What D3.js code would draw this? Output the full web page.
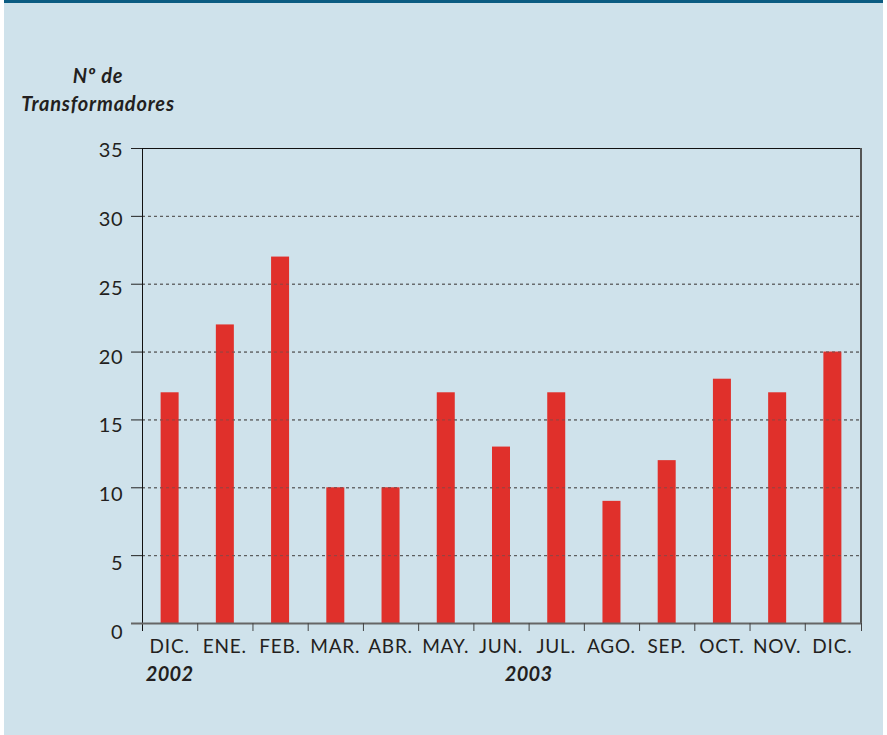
<!DOCTYPE html>
<html><head><meta charset="utf-8">
<script src="https://cdn.jsdelivr.net/npm/d3@7"></script>
<style>body{margin:0;background:#fff;}svg{display:block;}</style>
</head><body>
<script>
const categories = ["DIC.","ENE.","FEB.","MAR.","ABR.","MAY.","JUN.","JUL.","AGO.","SEP.","OCT.","NOV.","DIC."];
const values = [17,22,27,10,10,17,13,17,9,12,18,17,20];
const yTicks = [0,5,10,15,20,25,30,35];
const yearLabels = [{label:"2002", at:0, mode:"center"},{label:"2003", at:7, mode:"edge"}];

const W=887,H=735;
const svg=d3.select("body").append("svg").attr("width",W).attr("height",H);
const font="'Lato','Open Sans',sans-serif";
svg.append("rect").attr("x",4).attr("y",0).attr("width",879).attr("height",H).attr("fill","#cfe2eb");
svg.append("rect").attr("x",4).attr("y",0).attr("width",879).attr("height",3).attr("fill","#0b5c82");

const L=142,R=860,T=148,B=623;
const x=d3.scaleBand().domain(d3.range(categories.length)).range([L,R]).paddingInner(0).paddingOuter(0);
const y=d3.scaleLinear().domain([0,35]).range([B,T]);
const yLab=d3.scaleLinear().domain([0,35]).range([632,150]);

const grid=yTicks.filter(d=>d>0&&d<35);
svg.append("g").selectAll("line").data(grid).join("line")
  .attr("x1",L).attr("x2",R).attr("y1",d=>y(d)+0.5).attr("y2",d=>y(d)+0.5)
  .attr("stroke","#555").attr("stroke-width",1).attr("stroke-dasharray","3,3");

const bw=18;
svg.append("g").selectAll("rect").data(values).join("rect")
  .attr("x",(d,i)=>x(i)+x.bandwidth()/2-bw/2).attr("width",bw)
  .attr("y",d=>y(d)).attr("height",d=>B-y(d)).attr("fill","#e0302b");

svg.append("g").selectAll("line").data(grid).join("line")
  .attr("x1",L).attr("x2",R).attr("y1",d=>y(d)+0.5).attr("y2",d=>y(d)+0.5)
  .attr("stroke","#555").attr("stroke-width",1).attr("stroke-dasharray","3,3").attr("opacity",0.6);

svg.append("line").attr("x1",L).attr("x2",R).attr("y1",T+0.5).attr("y2",T+0.5).attr("stroke","#111");
svg.append("line").attr("x1",R+1).attr("x2",R+1).attr("y1",T).attr("y2",B).attr("stroke","#555").attr("stroke-width",2);
svg.append("line").attr("x1",L+0.5).attr("x2",L+0.5).attr("y1",T).attr("y2",B+8).attr("stroke","#111");
svg.append("g").selectAll("line").data(yTicks).join("line")
  .attr("x1",131).attr("x2",L).attr("y1",d=>y(d)+0.5).attr("y2",d=>y(d)+0.5).attr("stroke","#222");
svg.append("line").attr("x1",131).attr("x2",R+2).attr("y1",B+0.5).attr("y2",B+0.5).attr("stroke","#666").attr("stroke-width",2);
svg.append("g").selectAll("line").data(d3.range(1,categories.length+1)).join("line")
  .attr("x1",i=>(i<categories.length?x(i):R+1)+0.5).attr("x2",i=>(i<categories.length?x(i):R+1)+0.5)
  .attr("y1",B).attr("y2",B+8).attr("stroke","#444").attr("stroke-width",1);

svg.append("g").selectAll("text").data(yTicks).join("text")
  .attr("x",123).attr("y",d=>yLab(d)).attr("dy","0.35em").attr("text-anchor","end")
  .attr("font-family",font).attr("font-size",20).attr("letter-spacing",0.5).attr("fill","#231f20").text(d=>d);

svg.append("g").selectAll("text").data(categories).join("text")
  .attr("x",(d,i)=>x(i)+x.bandwidth()/2).attr("y",653).attr("text-anchor","middle")
  .attr("font-family",font).attr("font-size",19).attr("letter-spacing",0.8).attr("fill","#231f20").text(d=>d);

svg.append("g").selectAll("text").data(yearLabels).join("text")
  .attr("x",d=>d.mode==="center"?x(d.at)+x.bandwidth()/2:x(d.at))
  .attr("y",681).attr("text-anchor","middle")
  .attr("font-family",font).attr("font-size",20).attr("font-weight","bold").attr("font-style","italic")
  .attr("letter-spacing",0.3).attr("fill","#231f20").text(d=>d.label);

const title=svg.append("text").attr("font-family",font).attr("font-size",20).attr("font-weight","bold")
  .attr("font-style","italic").attr("fill","#231f20").attr("text-anchor","middle").attr("letter-spacing",0.8);
title.append("tspan").attr("x",98).attr("y",83).text("Nº de");
title.append("tspan").attr("x",98).attr("y",111).text("Transformadores");
</script>
</body></html>
